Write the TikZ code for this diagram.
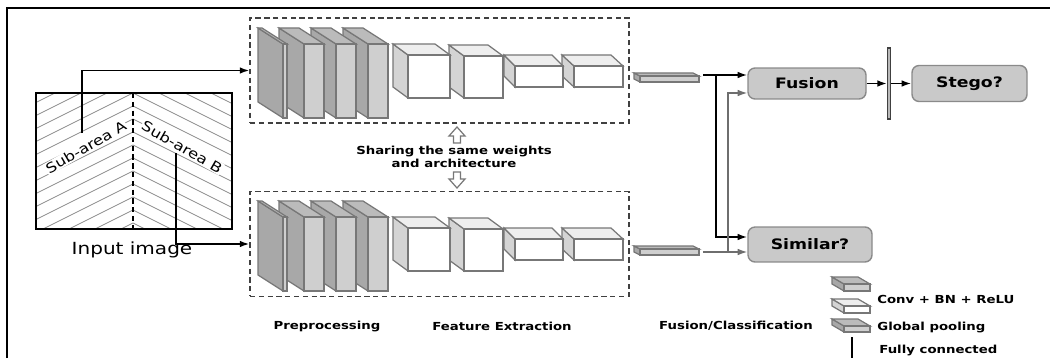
\documentclass[tikz,border=0pt]{standalone}
\usepackage{fontspec}
\setmainfont{DejaVu Sans}[FakeStretch=1.2]
\usepackage{tikz}
\usetikzlibrary{arrows.meta,positioning}
\usepackage{xcolor}
\definecolor{edgegray}{HTML}{777777}
\definecolor{slabside}{HTML}{A8A8A8}
\definecolor{slabfront}{HTML}{CFCFCF}
\definecolor{slabtop}{HTML}{BBBBBB}
\definecolor{cubeside}{HTML}{D4D4D4}
\definecolor{cubetop}{HTML}{EEEEEE}
\definecolor{boxgray}{HTML}{C9C9C9}
\definecolor{boxedge}{HTML}{8A8A8A}
\definecolor{linkgray}{HTML}{6E6E6E}
\definecolor{hatchgray}{HTML}{8C8C8C}
% #1,#2 front top-left, #3 width, #4 height, #5,#6 depth, #7 front, #8 side, #9 top
\newcommand{\cuboid}[9]{%
  \filldraw[draw=edgegray, line width=0.7pt, fill=#8] (#1,#2) -- ++(-#5,-#6) -- ++(0,#4) -- ++(#5,#6) -- cycle;
  \filldraw[draw=edgegray, line width=0.7pt, fill=#9] (#1,#2) -- ++(-#5,-#6) -- ++(#3,0) -- ++(#5,#6) -- cycle;
  \filldraw[draw=edgegray, line width=0.7pt, fill=#7] (#1,#2) rectangle ++(#3,#4);}

\begin{document}
\begin{tikzpicture}[x=0.02cm, y=-0.02cm,
  conn/.style={line width=1pt, -{Latex[length=5.5pt,width=3.8pt]}},
  gconn/.style={conn, draw=linkgray, line width=0.8pt},
  netbox/.style={draw=black!75, densely dashed, line width=0.7pt, inner sep=0pt,
    minimum width=7.58cm, minimum height=2.1cm},
  decision/.style={draw=boxedge, fill=boxgray, rounded corners=4pt, line width=0.8pt,
    font=\bfseries\fontsize{8.2}{9.5}\selectfont},
  caption/.style={font=\bfseries\fontsize{6.3}{7.3}\selectfont}]
  \useasboundingbox (0,0) rectangle (1050,358);
  % Frame
  \draw[line width=0.7pt] (7,358) -- (7,8) -- (1050,8);

  % Input image
  \begin{scope}
    \clip (36,93) rectangle (232,229);
    \foreach \c in {54,67,...,223}
      \draw[hatchgray, line width=0.5pt] (133,\c) -- (36,\c+48.5) (133,\c) -- (232,\c+49.5);
  \end{scope}
  \draw[line width=0.8pt] (36,93) rectangle (232,229);
  \draw[densely dashed, line width=0.7pt] (133,93) -- (133,229);
  \node[fill=white, inner sep=0.5pt, rotate=30, font=\fontsize{7.8}{9}\selectfont] (subA) at (86,147) {Sub-area A};
  \node[fill=white, inner sep=0.5pt, rotate=-30, font=\fontsize{7.8}{9}\selectfont] (subB) at (182,147) {Sub-area B};
  \node[font=\fontsize{9.5}{11}\selectfont] (input) at (132,250) {Input image};
  \coordinate (outA) at (82,133);
  \coordinate (outB) at (176,153);

  % Twin networks
  \node[netbox] (netA) at (439.5,70.5) {};
  \node[netbox] (netB) at (439.5,244) {};
  \foreach \dy in {0,173} {
    \cuboid{574}{66+\dy}{49}{21}{12}{11}{white}{cubeside}{cubetop}
    \cuboid{515}{66+\dy}{48}{21}{11}{11}{white}{cubeside}{cubetop}
    \cuboid{464}{56+\dy}{39}{42}{15}{11}{white}{cubeside}{cubetop}
    \cuboid{408}{55+\dy}{42}{43}{15}{11}{white}{cubeside}{cubetop}
    \cuboid{368}{44+\dy}{20}{74}{25}{16}{slabfront}{slabside}{slabtop}
    \cuboid{336}{44+\dy}{20}{74}{25}{16}{slabfront}{slabside}{slabtop}
    \cuboid{304}{44+\dy}{20}{74}{25}{16}{slabfront}{slabside}{slabtop}
    \cuboid{283}{44+\dy}{4}{74}{25}{16}{slabfront}{slabside}{slabtop}
  }
  \draw[conn] (outA) |- (netA.west);
  \draw[conn] (outB) |- (netB.west);

  % Shared weights
  \draw[edgegray, line width=0.7pt, fill=white] (457,127) -- (465,136) -- (460.5,136) -- (460.5,143)
    -- (453.5,143) -- (453.5,136) -- (449,136) -- cycle;
  \draw[edgegray, line width=0.7pt, fill=white] (457,188) -- (465,179) -- (460.5,179) -- (460.5,172)
    -- (453.5,172) -- (453.5,179) -- (449,179) -- cycle;
  \node[caption, align=center] (share) at (454,157) {Sharing the same weights\\and architecture};

  % Global pooling
  \cuboid{640}{76}{59}{6}{6}{3}{slabfront}{slabside}{slabtop}
  \cuboid{640}{249}{59}{6}{6}{3}{slabfront}{slabside}{slabtop}

  % Fusion / classification
  \node[decision, minimum width=2.36cm, minimum height=0.62cm] (fusion) at (807,83.5) {Fusion};
  \node[decision, minimum width=2.3cm, minimum height=0.72cm] (stego) at (969.5,83.5) {Stego?};
  \node[decision, minimum width=2.48cm, minimum height=0.7cm] (similar) at (810,244.5) {Similar?};
  \node[draw=black!75, fill=gray!55, line width=0.6pt, inner sep=0pt,
    minimum width=0.06cm, minimum height=1.42cm] (fc) at (889,83.5) {};
  \coordinate (featA) at (703,75);
  \coordinate (featB) at (703,252);
  \coordinate (splitA) at (716,75);
  \coordinate (splitB) at (728,252);
  \coordinate (bendA) at (716,237);
  \coordinate (bendB) at (728,93);
  \draw[conn] (featA) -- (featA -| fusion.west);
  \draw[conn] (splitA) -- (bendA) -- (bendA -| similar.west);
  \draw[gconn] (featB) -- (featB -| similar.west);
  \draw[gconn] (splitB) -- (bendB) -- (bendB -| fusion.west);
  \draw[conn] (fusion) -- (fc);
  \draw[conn] (fc) -- (stego);

  % Stage captions
  \node[caption] (pre) at (327,326) {Preprocessing};
  \node[caption] (feat) at (502,326) {Feature Extraction};
  \node[caption] (fuse) at (736,326) {Fusion/Classification};

  % Legend
  \cuboid{844}{284}{26}{7}{12}{7}{slabfront}{slabside}{slabtop}
  \cuboid{844}{306}{26}{7}{12}{7}{white}{cubeside}{cubetop}
  \cuboid{844}{326}{26}{6}{12}{7}{slabfront}{slabside}{slabtop}
  \draw[line width=1.2pt] (852,337) -- (852,358);
  \node[caption, anchor=west, inner sep=0pt] (legconv) at (877,299) {Conv + BN + ReLU};
  \node[caption, anchor=west, inner sep=0pt] (legpool) at (877,327) {Global pooling};
  \node[caption, anchor=west, inner sep=0pt] (legfc) at (879,350) {Fully connected};
\end{tikzpicture}
\end{document}
